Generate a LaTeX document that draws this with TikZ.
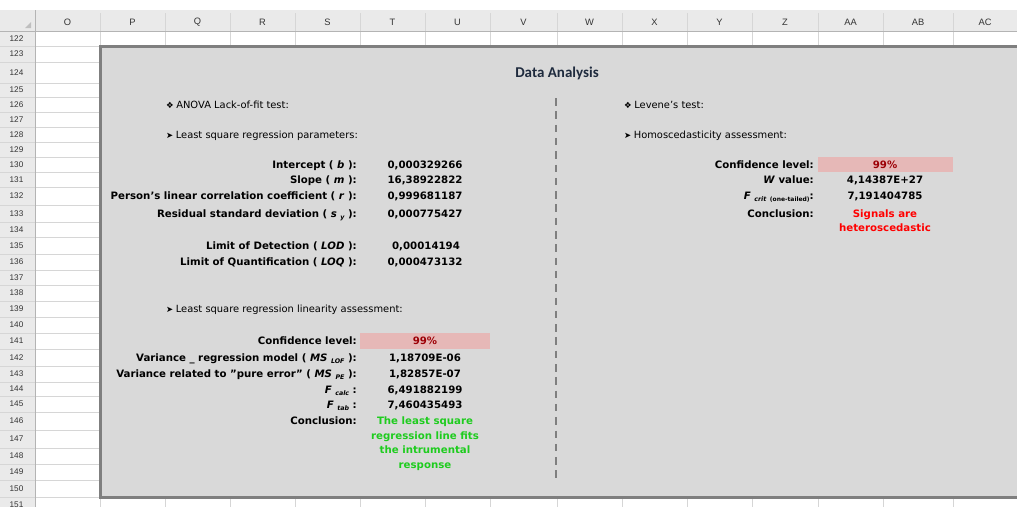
\documentclass[tikz,border=0pt]{standalone}
\usepackage{graphicx}
\usepackage{fontspec}
\setmainfont{DejaVu Sans}
\newfontfamily\hdrfont{Liberation Sans}
\newfontfamily\titlefont{Carlito}
\definecolor{boxgray}{HTML}{D9D9D9}
\definecolor{boxborder}{HTML}{7F7F7F}
\definecolor{hdrbg}{HTML}{EAEAEA}
\definecolor{hdrline}{HTML}{B4B4B4}
\definecolor{gridc}{HTML}{D6D6D6}
\definecolor{pinkfill}{HTML}{E6B8B7}
\definecolor{darkred}{HTML}{9C0006}
\definecolor{okgreen}{HTML}{1ECC1E}
\definecolor{titlecol}{HTML}{1F2B3E}
\newcommand{\sbs}[1]{\raisebox{-2pt}{\fontsize{6.3}{7}\selectfont\bfseries\itshape #1}}
\newcommand{\sbn}[1]{\raisebox{-2pt}{\fontsize{6}{7}\selectfont\bfseries #1}}
\newcommand{\symb}[1]{{\fontsize{8.5}{9}\selectfont #1}\hspace{2.5pt}}
\newcommand{\sq}{\symbol{"22}}
\tikzset{
  lab/.style={anchor=east, inner sep=0pt, text height=7.5pt, text depth=0pt, font=\fontsize{10.2}{12}\selectfont\bfseries},
  val/.style={anchor=center, inner sep=0pt, text height=7.5pt, text depth=0pt, font=\fontsize{10.2}{12}\selectfont\bfseries},
  head/.style={anchor=west, inner sep=0pt, text height=7pt, text depth=0pt, font=\fontsize{9.9}{11}\selectfont},
  colhd/.style={inner sep=0pt, text=black!80, font=\hdrfont\fontsize{9.3}{10}\selectfont},
  rowhd/.style={inner sep=0pt, text=black!80, font=\hdrfont\fontsize{8.2}{9}\selectfont},
  gridline/.style={draw=gridc, line width=0.8pt},
  hline/.style={draw=hdrline, line width=0.8pt},
  pinkcell/.style={fill=pinkfill, draw=none},
  dashsep/.style={draw=boxborder, line width=1.8pt, dash pattern=on 7.5pt off 5.8pt}
}
\begin{document}
\begin{tikzpicture}[x=1pt,y=-1pt]
\useasboundingbox (0,0) rectangle (1017,507);
\clip (0,0) rectangle (1017,507);
\fill[white] (0,0) rectangle (1017,507);
% header band and row header column
\fill[hdrbg] (0,10) rectangle (1017,31);
\fill[hdrbg] (0,31) rectangle (35,507);
% column separators in header and grid in white rows
\foreach \x in {100,165,230,295,360,425,490,557,622,687,752,818,883,953} {
  \draw[gridline] (\x,13) -- (\x,31);
  \draw[gridline] (\x,31) -- (\x,46);
  \draw[gridline] (\x,497) -- (\x,507);
}
\draw[gridline] (35,46) -- (1017,46);
\fill[black!25] (25,28) -- (31,28) -- (31,22) -- cycle;
% rows
\foreach \r/\a/\b in {122/31/46,123/46/62,124/62/83,125/83/97,126/97/112,127/112/127,128/127/142,129/142/157,130/157/172,131/172/187,132/187/205,133/205/222,134/222/237,135/237/254,136/254/270,137/270/285,138/285/301,139/301/317,140/317/333,141/333/349,142/349/366,143/366/382,144/382/396,145/396/412,146/412/430,147/430/448,148/448/464,149/464/480,150/480/497,151/497/512} {
  \draw[gridline] (0,\b) -- (35,\b);
  \draw[gridline] (35,\b) -- (100,\b);
  \node[rowhd] (row\r) at (16.5,{(\a+\b)/2}) {\r};
}
\draw[hline] (0,31) -- (1017,31);
\draw[hline] (35,10) -- (35,507);
% column letters
\foreach \x/\t in {67.5/O,132.5/P,197.5/Q,262.5/R,327.5/S,392.5/T,457.5/U,523.5/V,589.5/W,654.5/X,719.5/Y,785/Z,850.5/AA,918/AB,985/AC} {
  \node[colhd] (col\t) at (\x,22.5) {\t};
}
% the analysis box
\draw[line width=3pt, draw=boxborder, fill=boxgray] (100,46) rectangle (1030,497);
\node[inner sep=0pt, text=titlecol, font=\titlefont\fontsize{15}{17}\selectfont\bfseries] (title) at (557,73) {Data Analysis};
\coordinate (dtop) at (556,98);
\coordinate (dbot) at (556,481);
\draw[dashsep] (dtop) -- (dbot);
% left part headings
\node[head] (h1) at (166,105) {\symb{❖}ANOVA Lack-of-fit test:};
\node[head] (h2) at (166,134.5) {\symb{➤}Least square regression parameters:};
\node[head] (h3) at (166,309) {\symb{➤}Least square regression linearity assessment:};
% left labels
\node[lab] (l1) at (357,164.5) {Intercept ( \textit{b} ):};
\node[lab] (l2) at (357,179.5) {Slope ( \textit{m} ):};
\node[lab] (l3) at (357,196) {Person's linear correlation coefficient ( \textit{r} ):};
\node[lab] (l4) at (357,213.5) {Residual standard deviation ( \textit{s} \sbs{y} ):};
\node[lab] (l5) at (357,245.5) {Limit of Detection ( \textit{LOD} ):};
\node[lab] (l6) at (357,262) {Limit of Quantification ( \textit{LOQ} ):};
\node[lab] (l7) at (357,341) {Confidence level:};
\node[lab] (l8) at (357,357.5) {Variance \_ regression model ( \textit{MS} \sbs{LOF} ):};
\node[lab] (l9) at (357,374) {Variance related to \sq pure error\sq\ ( \textit{MS} \sbs{PE} ):};
\node[lab] (l10) at (357,389.5) {\textit{F} \sbs{calc} :};
\node[lab] (l11) at (357,405) {\textit{F} \sbs{tab} :};
\node[lab] (l12) at (357,421) {Conclusion:};
% left values
\node[val] (v1) at (425,164.5) {0,000329266};
\node[val] (v2) at (425,179.5) {16,38922822};
\node[val] (v3) at (425,196) {0,999681187};
\node[val] (v4) at (425,213.5) {0,000775427};
\node[val] (v5) at (426,245.5) {0,00014194};
\node[val] (v6) at (425,262) {0,000473132};
\fill[pinkcell] (360,333) rectangle (490,349);
\node[val, text=darkred] (v7) at (425,341) {99\%};
\node[val] (v8) at (425,357.5) {1,18709E-06};
\node[val] (v9) at (425,374) {1,82857E-07};
\node[val] (v10) at (425,389.5) {6,491882199};
\node[val] (v11) at (425,405) {7,460435493};
\node[val, text=okgreen] (g1) at (425,421) {The least square};
\node[val, text=okgreen] (g2) at (425,435.5) {regression line fits};
\node[val, text=okgreen] (g3) at (425,450) {the intrumental};
\node[val, text=okgreen] (g4) at (425,465) {response};
% right part
\node[head] (h4) at (624,105) {\symb{❖}Levene's test:};
\node[head] (h5) at (624,134.5) {\symb{➤}Homoscedasticity assessment:};
\node[lab] (r1) at (814,164.5) {Confidence level:};
\node[lab] (r2) at (814,179.5) {\textit{W} value:};
\node[lab] (r3) at (814,196) {\textit{F} \sbs{crit} \sbn{(one-tailed)}:};
\node[lab] (r4) at (814,214) {Conclusion:};
\fill[pinkcell] (818,157) rectangle (953,172);
\node[val, text=darkred] (w1) at (885,164.5) {99\%};
\node[val] (w2) at (885,179.5) {4,14387E+27};
\node[val] (w3) at (885,196) {7,191404785};
\node[val, text=red] (w4) at (885,213.5) {Signals are};
\node[val, text=red] (w5) at (885,228) {heteroscedastic};
\end{tikzpicture}
\end{document}
